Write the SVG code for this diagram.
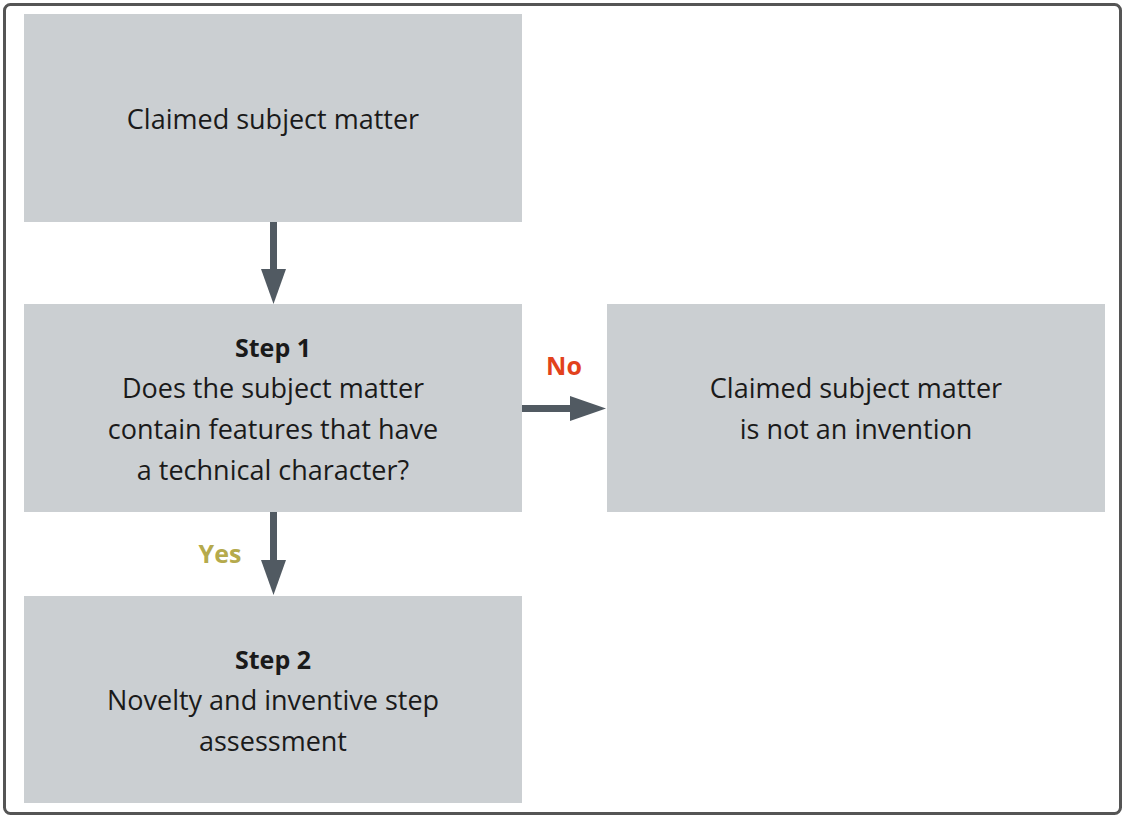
<svg xmlns="http://www.w3.org/2000/svg" width="1126" height="820" viewBox="0 0 1126 820">
<style>
.box{fill:#cbcfd2;}
.t{font-family:"Open Sans","Noto Sans",sans-serif;font-size:27px;fill:#1a1a1a;text-anchor:middle;}
.b{font-weight:bold;font-size:25px;}
.ln{stroke:#515a62;stroke-width:7;fill:none;}
.ah{fill:#515a62;}
</style>
<rect x="0" y="0" width="1126" height="820" fill="#ffffff"/>
<rect x="4.5" y="4.5" width="1116" height="809" rx="6" fill="#ffffff" stroke="#555555" stroke-width="3"/>
<g id="n1">
<rect class="box" x="24" y="14" width="498" height="208"/>
<text class="t" x="273" y="129">Claimed subject matter</text>
</g>
<g id="n2">
<rect class="box" x="24" y="304" width="498" height="208"/>
<text class="t b" x="273" y="357">Step 1</text>
<text class="t" x="273" y="398">Does the subject matter</text>
<text class="t" x="273" y="439">contain features that have</text>
<text class="t" x="273" y="480">a technical character?</text>
</g>
<g id="n3">
<rect class="box" x="607" y="304" width="498" height="208"/>
<text class="t" x="856" y="398">Claimed subject matter</text>
<text class="t" x="856" y="439">is not an invention</text>
</g>
<g id="n4">
<rect class="box" x="24" y="596" width="498" height="207"/>
<text class="t b" x="273" y="669">Step 2</text>
<text class="t" x="273" y="710">Novelty and inventive step</text>
<text class="t" x="273" y="751">assessment</text>
</g>
<g id="connectors">
<line class="ln" x1="273.5" y1="222" x2="273.5" y2="272"/>
<polygon class="ah" points="261,269 286,269 273.5,304"/>
<line class="ln" x1="522" y1="408.5" x2="573" y2="408.5"/>
<polygon class="ah" points="570,396 570,421 606,408.5"/>
<text class="t b" x="564" y="375" style="fill:#e2421c">No</text>
<line class="ln" x1="273.5" y1="512" x2="273.5" y2="563"/>
<polygon class="ah" points="261,560 286,560 273.5,595"/>
<text class="t b" x="220" y="563" style="fill:#b5aa4c">Yes</text>
</g>
</svg>
